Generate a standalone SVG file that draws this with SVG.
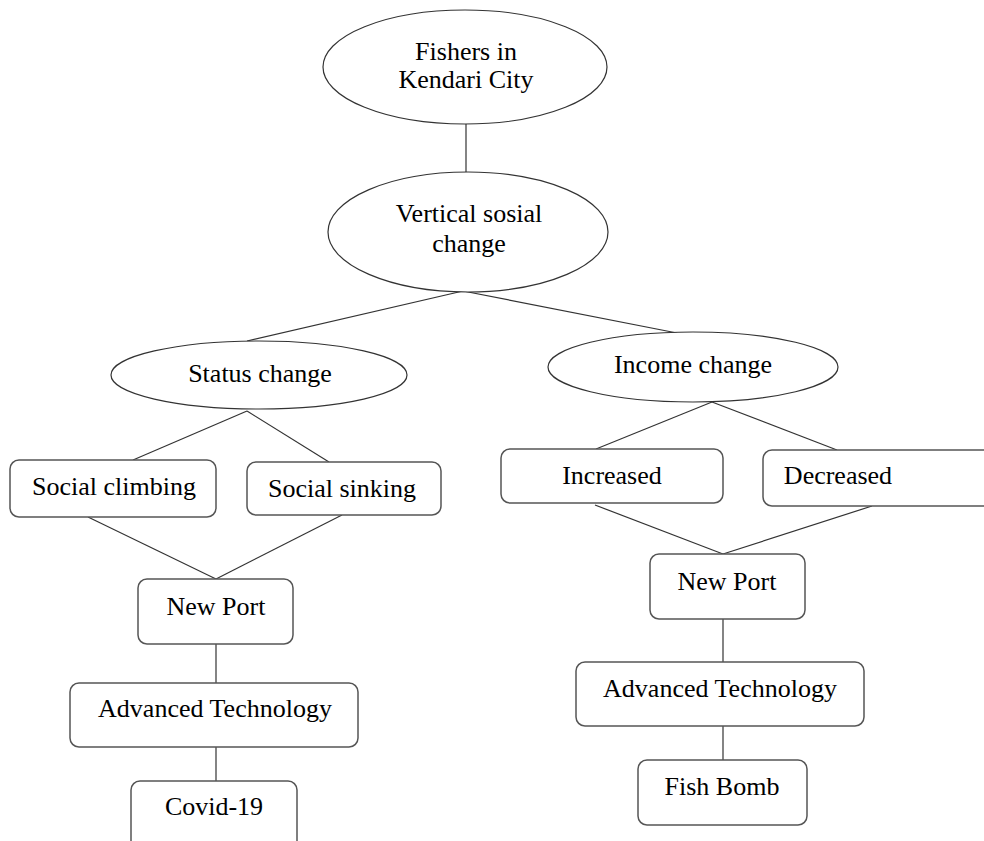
<svg xmlns="http://www.w3.org/2000/svg" width="984" height="841" viewBox="0 0 984 841">
<style>
.shape{fill:#fff;stroke:#333;stroke-width:1.2}
.box{fill:#fff;stroke:#555;stroke-width:1.5}
.link{fill:none;stroke:#333;stroke-width:1.2}
text{font-family:"Liberation Serif","Times New Roman",serif;font-size:26px;fill:#000;text-anchor:middle}
</style>
<rect width="984" height="841" fill="#fff"/>
<g id="connectors">
<line class="link" x1="466" y1="124" x2="466" y2="172"/>
<line class="link" x1="463" y1="291" x2="247" y2="341"/>
<line class="link" x1="463" y1="291" x2="677" y2="333"/>
<line class="link" x1="247" y1="411" x2="133" y2="460"/>
<line class="link" x1="247" y1="411" x2="329" y2="462"/>
<line class="link" x1="88" y1="517" x2="216" y2="579"/>
<line class="link" x1="342" y1="515" x2="216" y2="579"/>
<line class="link" x1="216" y1="644" x2="216" y2="683"/>
<line class="link" x1="216" y1="747" x2="216" y2="781"/>
<line class="link" x1="712" y1="402" x2="596" y2="449"/>
<line class="link" x1="712" y1="402" x2="837" y2="450"/>
<line class="link" x1="595" y1="505" x2="723" y2="554"/>
<line class="link" x1="872" y1="506" x2="723" y2="554"/>
<line class="link" x1="723" y1="619" x2="723" y2="662"/>
<line class="link" x1="723" y1="726" x2="723" y2="760"/>
</g>
<g id="fishers">
<ellipse class="shape" cx="465" cy="67" rx="142" ry="57"/>
<text x="466" y="60">Fishers in</text>
<text x="466" y="88">Kendari City</text>
</g>
<g id="vertical">
<ellipse class="shape" cx="468" cy="232" rx="140" ry="60"/>
<text x="469" y="222">Vertical sosial</text>
<text x="469" y="252">change</text>
</g>
<g id="status">
<ellipse class="shape" cx="259" cy="375" rx="148" ry="34"/>
<text x="260" y="382">Status change</text>
</g>
<g id="income">
<ellipse class="shape" cx="693" cy="367" rx="145" ry="35"/>
<text x="693" y="373">Income change</text>
</g>
<g id="climbing">
<rect class="box" x="10" y="460" width="206" height="57" rx="9"/>
<text x="114" y="495">Social climbing</text>
</g>
<g id="sinking">
<rect class="box" x="247" y="462" width="194" height="53" rx="9"/>
<text x="342" y="497">Social sinking</text>
</g>
<g id="increased">
<rect class="box" x="501" y="449" width="222" height="54" rx="9"/>
<text x="612" y="484">Increased</text>
</g>
<g id="decreased">
<rect class="box" x="763" y="450" width="240" height="56" rx="9"/>
<text x="838" y="484">Decreased</text>
</g>
<g id="newport-left">
<rect class="box" x="138" y="579" width="155" height="65" rx="9"/>
<text x="216" y="615">New Port</text>
</g>
<g id="advtech-left">
<rect class="box" x="70" y="683" width="288" height="64" rx="9"/>
<text x="215" y="717">Advanced Technology</text>
</g>
<g id="covid">
<rect class="box" x="131" y="781" width="166" height="80" rx="9"/>
<text x="214" y="815">Covid-19</text>
</g>
<g id="newport-right">
<rect class="box" x="650" y="554" width="155" height="65" rx="9"/>
<text x="727" y="590">New Port</text>
</g>
<g id="advtech-right">
<rect class="box" x="576" y="662" width="288" height="64" rx="9"/>
<text x="720" y="697">Advanced Technology</text>
</g>
<g id="fishbomb">
<rect class="box" x="638" y="760" width="169" height="65" rx="9"/>
<text x="722" y="795">Fish Bomb</text>
</g>
</svg>
